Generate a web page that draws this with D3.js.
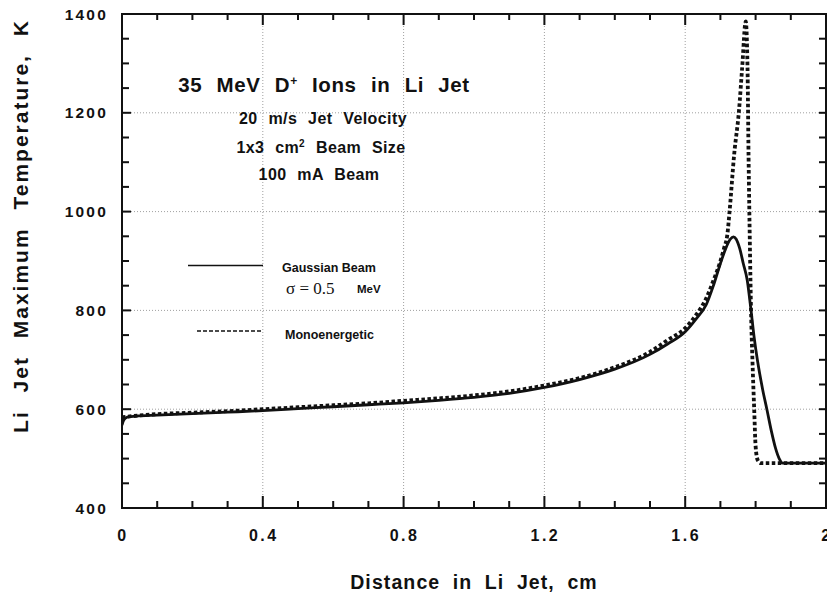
<!DOCTYPE html>
<html>
<head>
<meta charset="utf-8">
<script src="https://cdnjs.cloudflare.com/ajax/libs/d3/7.8.5/d3.min.js"></script>
<style>
  body { margin: 0; background: #fff; }
  text { font-family: "Liberation Sans", Arial, sans-serif; font-weight: bold; fill: #111; }
</style>
</head>
<body>
<svg id="chart" width="827" height="595"></svg>
<script>
// ----------------------- DATA -------------------------------
var xTicks = [0, 0.4, 0.8, 1.2, 1.6, 2];
var xTickLabels = ["0", "0.4", "0.8", "1.2", "1.6", "2"];
var yTicks = [400, 600, 800, 1000, 1200, 1400];

// Gaussian beam (sigma = 0.5 MeV)
var gaussX = [0, 0.005, 0.015, 0.04, 0.1, 0.2, 0.3, 0.4, 0.5, 0.6, 0.7, 0.8, 0.9, 1.0, 1.1, 1.2, 1.3, 1.4, 1.5, 1.55, 1.6, 1.63, 1.66, 1.68, 1.7, 1.715, 1.728, 1.737, 1.745, 1.755, 1.765, 1.776, 1.787, 1.796, 1.805, 1.82, 1.832, 1.845, 1.857, 1.867, 1.877, 2.0];
var gaussT = [568, 578, 584, 586, 588, 591, 594, 597, 601, 605, 609, 613, 618, 624, 632, 644, 660, 681, 711, 732, 757, 782, 812, 850, 895, 925, 944, 949, 944, 925, 895, 862, 800, 745, 700, 640, 600, 555, 520, 500, 491, 491];

// Monoenergetic beam
var monoX = [0, 0.1, 0.2, 0.3, 0.4, 0.5, 0.6, 0.7, 0.8, 0.9, 1.0, 1.1, 1.2, 1.3, 1.4, 1.5, 1.55, 1.6, 1.63, 1.66, 1.68, 1.7, 1.71, 1.72, 1.726, 1.739, 1.753, 1.762, 1.772, 1.777, 1.78, 1.784, 1.787, 1.791, 1.796, 1.8, 1.806, 1.815, 2.0];
var monoT = [584, 590, 593, 596, 600, 604, 608, 612, 617, 622, 628, 636, 648, 663, 685, 716, 740, 764, 790, 825, 860, 900, 925, 955, 1000, 1115, 1206, 1293, 1385, 1293, 1111, 922, 800, 700, 600, 525, 497, 491, 491];

// ----------------------- CHART -------------------------------
var svg = d3.select("#chart"),
    pLeft = 122, pRight = 826, pTop = 14, pBottom = 508;

var x = d3.scaleLinear().domain([0, 2]).range([pLeft, pRight]);
var y = d3.scaleLinear().domain([400, 1400]).range([pBottom, pTop]);

// dotted grid at major ticks
var grid = svg.append("g")
    .attr("stroke", "#888")
    .attr("stroke-width", 0.8)
    .attr("stroke-dasharray", "1,2");

grid.selectAll(".vx")
    .data(xTicks.slice(1, -1))
  .enter().append("line")
    .attr("x1", function(d) { return x(d); })
    .attr("x2", function(d) { return x(d); })
    .attr("y1", pTop).attr("y2", pBottom);

grid.selectAll(".hy")
    .data(yTicks.slice(1, -1))
  .enter().append("line")
    .attr("x1", pLeft).attr("x2", pRight)
    .attr("y1", function(d) { return y(d); })
    .attr("y2", function(d) { return y(d); });

// frame
svg.append("rect")
    .attr("x", pLeft).attr("y", pTop)
    .attr("width", pRight - pLeft).attr("height", pBottom - pTop)
    .attr("fill", "none")
    .attr("stroke", "#111")
    .attr("stroke-width", 2);

// tick labels
svg.append("g").selectAll("text")
    .data(xTicks)
  .enter().append("text")
    .attr("x", function(d) { return x(d) + 1; })
    .attr("y", 541)
    .attr("text-anchor", "middle")
    .attr("font-size", 16)
    .attr("letter-spacing", 2.5)
    .text(function(d, i) { return xTickLabels[i]; });

svg.append("g").selectAll("text")
    .data(yTicks)
  .enter().append("text")
    .attr("x", 108)
    .attr("y", function(d) { return y(d) + 5.5; })
    .attr("text-anchor", "end")
    .attr("font-size", 15.5)
    .attr("letter-spacing", 2.2)
    .text(function(d) { return d; });

// axis titles
svg.append("text")
    .attr("x", 474)
    .attr("y", 589)
    .attr("text-anchor", "middle")
    .attr("font-size", 19.5)
    .attr("letter-spacing", 1.1)
    .attr("word-spacing", 6)
    .text("Distance in Li Jet, cm");

svg.append("text")
    .attr("transform", "translate(28,226) rotate(-90)")
    .attr("text-anchor", "middle")
    .attr("font-size", 21)
    .attr("letter-spacing", 2)
    .attr("word-spacing", 10)
    .text("Li Jet Maximum Temperature, K");

// curves
var line = d3.line()
    .x(function(d) { return x(d[0]); })
    .y(function(d) { return y(d[1]); })
    .curve(d3.curveMonotoneX);

svg.append("clipPath").attr("id", "clip")
  .append("rect")
    .attr("x", pLeft).attr("y", 0)
    .attr("width", pRight - pLeft).attr("height", pBottom);

var plot = svg.append("g").attr("clip-path", "url(#clip)");

plot.append("path")
    .datum(d3.zip(monoX, monoT))
    .attr("fill", "none")
    .attr("stroke", "#111")
    .attr("stroke-width", 3.8)
    .attr("stroke-dasharray", "3.5,2.5")
    .attr("d", line);

plot.append("path")
    .datum(d3.zip(gaussX, gaussT))
    .attr("fill", "none")
    .attr("stroke", "#111")
    .attr("stroke-width", 2.8)
    .attr("d", line);

// annotation block
var note = svg.append("g").attr("text-anchor", "middle");

var t1 = note.append("text")
    .attr("x", 324).attr("y", 92)
    .attr("font-size", 20.5)
    .attr("letter-spacing", 0.6)
    .attr("word-spacing", 8);
t1.append("tspan").text("35 MeV D");
t1.append("tspan").attr("font-size", 12).attr("dy", -7).text("+");
t1.append("tspan").attr("dy", 7).text(" Ions in Li Jet");

note.append("text")
    .attr("x", 323).attr("y", 124)
    .attr("font-size", 16)
    .attr("letter-spacing", 0.4)
    .attr("word-spacing", 6)
    .text("20 m/s Jet Velocity");

var t3 = note.append("text")
    .attr("x", 321).attr("y", 153)
    .attr("font-size", 16)
    .attr("letter-spacing", 0.4)
    .attr("word-spacing", 6);
t3.append("tspan").text("1x3 cm");
t3.append("tspan").attr("font-size", 10).attr("dy", -6).text("2");
t3.append("tspan").attr("dy", 6).text(" Beam Size");

note.append("text")
    .attr("x", 319).attr("y", 180)
    .attr("font-size", 16)
    .attr("letter-spacing", 0.4)
    .attr("word-spacing", 6)
    .text("100 mA Beam");

// legend
svg.append("line")
    .attr("x1", 188).attr("x2", 263)
    .attr("y1", 265.5).attr("y2", 265.5)
    .attr("stroke", "#111").attr("stroke-width", 1.6);
svg.append("text")
    .attr("x", 282).attr("y", 271.5)
    .attr("font-size", 12.5)
    .text("Gaussian Beam");
svg.append("text")
    .attr("x", 286).attr("y", 294)
    .attr("font-size", 17)
    .style("font-family", "'Liberation Serif', 'Times New Roman', serif")
    .style("font-weight", "normal")
    .text("\u03c3 = 0.5");
svg.append("text")
    .attr("x", 357).attr("y", 293)
    .attr("font-size", 11.5)
    .text("MeV");

svg.append("line")
    .attr("x1", 197).attr("x2", 263)
    .attr("y1", 331).attr("y2", 331)
    .attr("stroke", "#111").attr("stroke-width", 1.6)
    .attr("stroke-dasharray", "4,2");
svg.append("text")
    .attr("x", 285).attr("y", 338.5)
    .attr("font-size", 12.5)
    .text("Monoenergetic");

// inward ticks on all four sides (minor every 0.1 / 50, major at labels)
var xMinor = d3.range(21).map(function(i) { return i / 10; });
var yMinor = d3.range(21).map(function(i) { return 400 + i * 50; });

var tickG = svg.append("g").attr("class", "ticks");

xMinor.forEach(function(d, i) {
  var len = (i % 4 === 0) ? 12 : 7;
  tickG.append("rect")
      .attr("x", x(d) - 1).attr("y", pBottom - len)
      .attr("width", 2).attr("height", len)
      .attr("fill", "#111");
  tickG.append("rect")
      .attr("x", x(d) - 1).attr("y", pTop)
      .attr("width", 2).attr("height", len - 1)
      .attr("fill", "#111");
});
yMinor.forEach(function(d, i) {
  var len = (i % 4 === 0) ? 9 : 7;
  tickG.append("rect")
      .attr("x", pLeft).attr("y", y(d) - 1)
      .attr("width", len).attr("height", 2)
      .attr("fill", "#111");
  tickG.append("rect")
      .attr("x", pRight - 7).attr("y", y(d) - 1)
      .attr("width", 7).attr("height", 2)
      .attr("fill", "#111");
});
</script>
</body>
</html>
